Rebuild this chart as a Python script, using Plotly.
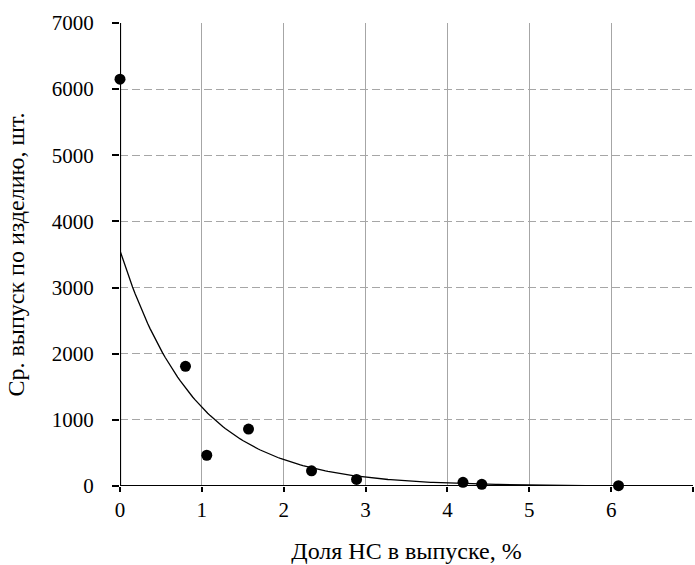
import numpy as np
import plotly.graph_objects as go

share_pct = [0.0, 0.80, 1.06, 1.57, 2.34, 2.89, 4.19, 4.42, 6.09]
avg_output = [6150, 1810, 465, 860, 230, 100, 55, 25, 5]

x_ticks = [0, 1, 2, 3, 4, 5, 6, 7]
y_ticks = [0, 1000, 2000, 3000, 4000, 5000, 6000, 7000]

# exponential trendline fitted to the data (as a spreadsheet would)
b, ln_a = np.polyfit(np.array(share_pct), np.log(np.array(avg_output)), 1)
xt = np.linspace(0, max(share_pct), 200)
yt = np.exp(ln_a) * np.exp(b * xt)

font_family = "Liberation Serif, serif"

fig = go.Figure()
fig.add_trace(go.Scatter(x=xt, y=yt, mode="lines",
                         line=dict(color="black", width=1.3),
                         hoverinfo="skip", showlegend=False))
fig.add_trace(go.Scatter(x=share_pct, y=avg_output, mode="markers",
                         marker=dict(color="black", size=11),
                         showlegend=False, cliponaxis=False))

fig.update_layout(
    width=695, height=565,
    margin=dict(l=120, r=2, t=23, b=79),
    plot_bgcolor="white", paper_bgcolor="white",
    font=dict(family=font_family, color="black", size=21),
    xaxis=dict(
        range=[0, 7], tickvals=x_ticks, automargin=False,
        showgrid=True, gridcolor="#a6a6a6", gridwidth=1,
        showline=False, zeroline=False,
        ticks="outside", ticklen=5, tickcolor="black", tickwidth=1.5,
        tickfont=dict(size=21, family=font_family, color="black"),
        title=dict(text="Доля НС в выпуске, %", standoff=20,
                   font=dict(size=24, family=font_family, color="black")),
    ),
    yaxis=dict(
        range=[0, 7000], tickvals=y_ticks, automargin=False,
        showgrid=True, gridcolor="#a6a6a6", gridwidth=1, griddash="8px,4px",
        showline=False, zeroline=False,
        ticks="outside", ticklen=7, tickcolor="black", tickwidth=1.5,
        ticklabelstandoff=14,
        tickfont=dict(size=21, family=font_family, color="black"),
        title=dict(text="Ср. выпуск по изделию, шт.", standoff=20,
                   font=dict(size=24, family=font_family, color="black")),
    ),
)

# axis lines at x=0 and y=0
fig.add_shape(type="line", xref="x", yref="paper", x0=0, x1=0, y0=0, y1=1,
              line=dict(color="black", width=2.2), layer="above")
fig.add_shape(type="line", xref="paper", yref="y", x0=0, x1=1, y0=0, y1=0,
              line=dict(color="black", width=2.2), layer="above")

fig.write_html("out.html", config={"displayModeBar": False},
               post_script="document.body.style.margin='0';document.body.style.padding='0';")
